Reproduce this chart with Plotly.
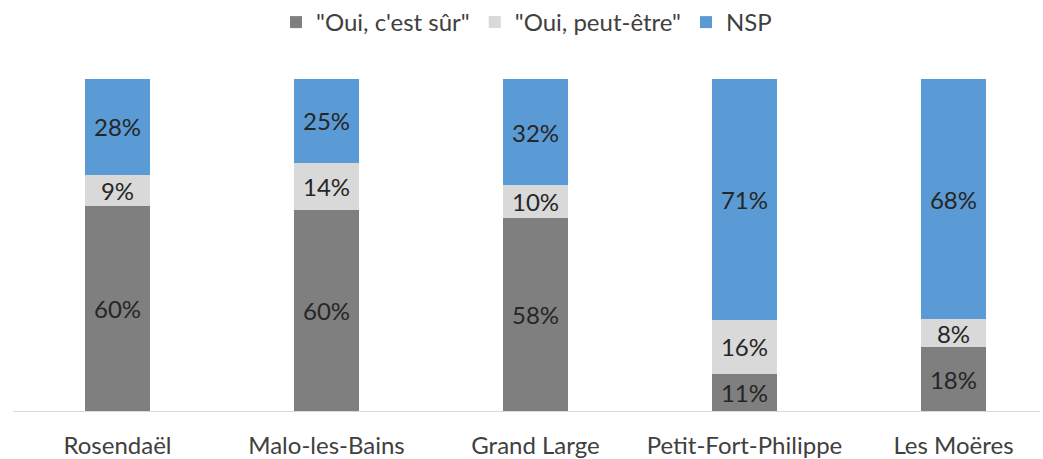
import plotly.graph_objects as go

quartiers = ["Rosendaël", "Malo-les-Bains", "Grand Large", "Petit-Fort-Philippe", "Les Moëres"]
oui_sur = [60, 60, 58, 11, 18]
oui_peut_etre = [9, 14, 10, 16, 8]
nsp = [28, 25, 32, 71, 68]

series = [
    ('"Oui, c\'est sûr"', oui_sur, "#7f7f7f"),
    ('"Oui, peut-être"', oui_peut_etre, "#d9d9d9"),
    ("NSP", nsp, "#5b9bd5"),
]

FONT = "Lato, 'Open Sans', sans-serif"
SIZE = 24

fig = go.Figure()
for name, vals, color in series:
    fig.add_trace(go.Bar(
        x=quartiers,
        y=vals,
        name=name,
        marker=dict(color=color, line=dict(width=0)),
        text=[f"{v}%" for v in vals],
        textposition="inside",
        insidetextanchor="middle",
        textangle=0,
        textfont=dict(family=FONT, size=SIZE, color="#262626"),
        width=0.311,
        hoverinfo="skip",
    ))

fig.update_layout(
    width=1043,
    height=459,
    barmode="stack",
    barnorm="percent",
    plot_bgcolor="white",
    paper_bgcolor="white",
    margin=dict(l=13, r=3, t=79, b=48),
    font=dict(family=FONT, size=SIZE, color="#404040"),
    uniformtext=dict(minsize=SIZE, mode="show"),
    legend=dict(
        orientation="h",
        x=0.5, xanchor="center",
        y=1.0, yanchor="top",
        yref="container",
        font=dict(family=FONT, size=SIZE, color="#404040"),
        itemsizing="constant",
        traceorder="normal",
        tracegroupgap=0,
    ),
    xaxis=dict(
        range=[-0.5, 4.414],
        automargin=False,
        showline=True,
        linecolor="#d9d9d9",
        linewidth=1,
        showgrid=False,
        ticks="",
        ticklabelstandoff=13,
        tickfont=dict(family=FONT, size=SIZE, color="#404040"),
    ),
    yaxis=dict(
        range=[0, 100],
        visible=False,
        showgrid=False,
    ),
)

fig.write_html("out.html")
